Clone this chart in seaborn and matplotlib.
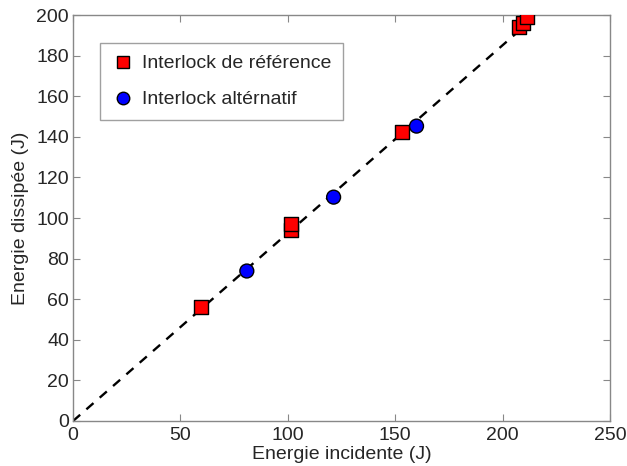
import matplotlib
matplotlib.use("Agg")
import matplotlib.pyplot as plt
import pandas as pd
import seaborn as sns

# reference interlock
ref_x = [59.5, 101.3, 101.3, 153.3, 207.7, 209.6, 211.4]
ref_y = [56.2, 94.0, 97.0, 142.4, 194.0, 196.0, 199.0]
# alternative interlock
alt_x = [80.9, 121.3, 159.9]
alt_y = [73.9, 110.3, 145.3]
# dashed trend line
fit_x = [0, 216]
fit_y = [0, 200]

labels = ["Interlock de référence", "Interlock altérnatif"]

df = pd.DataFrame({
    "x": ref_x + alt_x,
    "y": ref_y + alt_y,
    "serie": [labels[0]] * len(ref_x) + [labels[1]] * len(alt_x),
})

sns.set_style("ticks")
plt.rcParams["font.family"] = ["Liberation Sans", "DejaVu Sans"]

fig = plt.figure(figsize=(6.27, 4.66), dpi=100)
ax = fig.add_axes([0.1165, 0.0966, 0.8565, 0.871])

ax.plot(fit_x, fit_y, linestyle=(0, (4, 3.5)), color="black", lw=1.7, zorder=1)

sns.scatterplot(data=df, x="x", y="y", hue="serie", style="serie",
                markers={labels[0]: "s", labels[1]: "o"},
                palette={labels[0]: "#ff0000", labels[1]: "#0000ff"},
                s=100, edgecolor="black", linewidth=1.0, ax=ax, zorder=3)

ax.set_xlim(0, 250)
ax.set_ylim(0, 200)
ax.set_xticks(range(0, 251, 50))
ax.set_yticks(range(0, 201, 20))
ax.set_xlabel("Energie incidente (J)", fontsize=14, labelpad=2)
ax.set_ylabel("Energie dissipée (J)", fontsize=14, labelpad=5)
ax.tick_params(direction="in", top=True, right=True, length=5, width=0.8,
               color="#888888", labelsize=14)
ax.tick_params(axis="x", pad=4)
ax.tick_params(axis="y", pad=3)
for sp in ax.spines.values():
    sp.set_visible(True)
    sp.set_color("#888888")
    sp.set_linewidth(1.0)

leg = ax.legend(loc="upper left", bbox_to_anchor=(0.050, 0.931), borderaxespad=0,
                fontsize=14, frameon=True, fancybox=False, edgecolor="#888888",
                handletextpad=0.36, borderpad=0.6, labelspacing=0.95,
                markerscale=0.9, handlelength=1.2)
leg.get_frame().set_linewidth(1.0)

fig.savefig("out.png", dpi=100)
